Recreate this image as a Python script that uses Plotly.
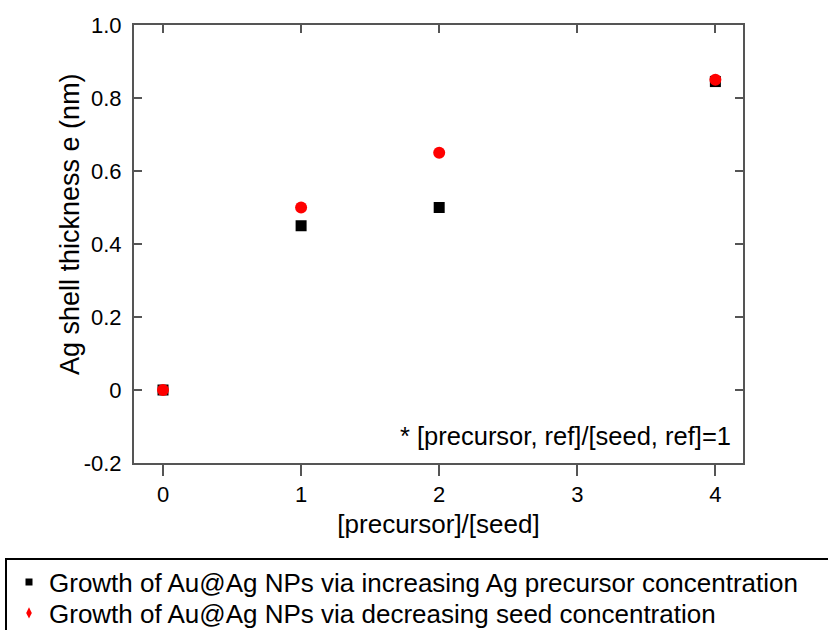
import plotly.graph_objects as go

# Data
ratio = [0, 1, 2, 4]
thick_precursor = [0, 0.45, 0.5, 0.845]
thick_seed = [0, 0.5, 0.65, 0.85]
x_ticks = [0, 1, 2, 3, 4]
y_ticks = [-0.2, 0, 0.2, 0.4, 0.6, 0.8, 1.0]
y_ticktext = ["-0.2", "0", "0.2", "0.4", "0.6", "0.8", "1.0"]
name_precursor = "Growth of Au@Ag NPs via increasing Ag precursor concentration"
name_seed = "Growth of Au@Ag NPs via decreasing seed concentration"
note = "* [precursor, ref]/[seed, ref]=1"
y_title = "Ag shell thickness e (nm)"
x_title = "[precursor]/[seed]"

FONT = "Arial, 'Liberation Sans', sans-serif"
AX = "#555555"

W, H = 828, 630
L, R, T, B = 134, 85, 25, 167
PW, PH = W - L - R, H - T - B

def px(x):
    return (x - L) / PW

def py(y):
    return (H - B - y) / PH

fig = go.Figure()
fig.add_trace(go.Scatter(x=ratio, y=thick_precursor, mode="markers",
                         marker=dict(symbol="square", size=11, color="black"),
                         showlegend=False))
fig.add_trace(go.Scatter(x=ratio, y=thick_seed, mode="markers",
                         marker=dict(symbol="circle", size=12, color="red"),
                         showlegend=False))
# legend entries
fig.add_trace(go.Scatter(x=[None], y=[None], mode="markers", name=name_precursor,
                         legend="legend",
                         marker=dict(symbol="square", size=7, color="black")))
fig.add_trace(go.Scatter(x=[None], y=[None], mode="markers", name=name_seed,
                         legend="legend2",
                         marker=dict(symbol="diamond-tall", size=8, color="red")))
# helper for top inside ticks
fig.add_trace(go.Scatter(x=[None], y=[None], xaxis="x2", showlegend=False))

leg_common = dict(xanchor="left", yanchor="middle",
                  font=dict(size=26, family=FONT, color="black"),
                  bgcolor="rgba(0,0,0,0)", borderwidth=0)

fig.update_layout(
    width=W, height=H,
    margin=dict(l=L, r=R, t=T, b=B, autoexpand=False),
    paper_bgcolor="white", plot_bgcolor="white",
    font=dict(family=FONT, color="black"),
    xaxis=dict(range=[-0.21, 4.2], tickvals=x_ticks, ticks="outside", ticklen=11,
               tickwidth=2, tickcolor=AX, showline=True, linecolor=AX, linewidth=2,
               mirror=True, showgrid=False, zeroline=False,
               tickfont=dict(size=22, family=FONT, color="black"),
               title=dict(text=x_title, font=dict(size=26, family=FONT), standoff=8)),
    xaxis2=dict(range=[-0.21, 4.2], overlaying="x", side="top", tickvals=x_ticks,
                ticks="inside", ticklen=8, tickwidth=2, tickcolor=AX,
                showticklabels=False, showline=False, showgrid=False, zeroline=False),
    yaxis=dict(range=[-0.2, 1.0], tickvals=y_ticks, ticktext=y_ticktext, ticks="inside",
               ticklen=8, tickwidth=2, tickcolor=AX, showline=True, linecolor=AX,
               linewidth=2, mirror="ticks", showgrid=False, zeroline=False,
               tickfont=dict(size=22, family=FONT, color="black"), ticklabelstandoff=6),
    legend=dict(x=px(9), y=py(582), **leg_common),
    legend2=dict(x=px(9), y=py(613), **leg_common),
    annotations=[
        dict(text=note, x=px(733), y=py(436), xref="paper", yref="paper",
             xanchor="right", yanchor="middle", showarrow=False,
             font=dict(size=25.5, family=FONT, color="black")),
        dict(text=y_title, x=px(70), y=py(224), xref="paper", yref="paper",
             xanchor="center", yanchor="middle", textangle=-90, showarrow=False,
             font=dict(size=27, family=FONT, color="black")),
    ],
    shapes=[dict(type="rect", xref="paper", yref="paper",
                 x0=px(6), x1=px(860), y0=py(559), y1=py(660),
                 line=dict(color="black", width=2), fillcolor="rgba(0,0,0,0)")],
)

fig.write_html("out.html", config={"displayModeBar": False},
               post_script="document.body.style.margin='0px';document.body.style.overflow='hidden';")
